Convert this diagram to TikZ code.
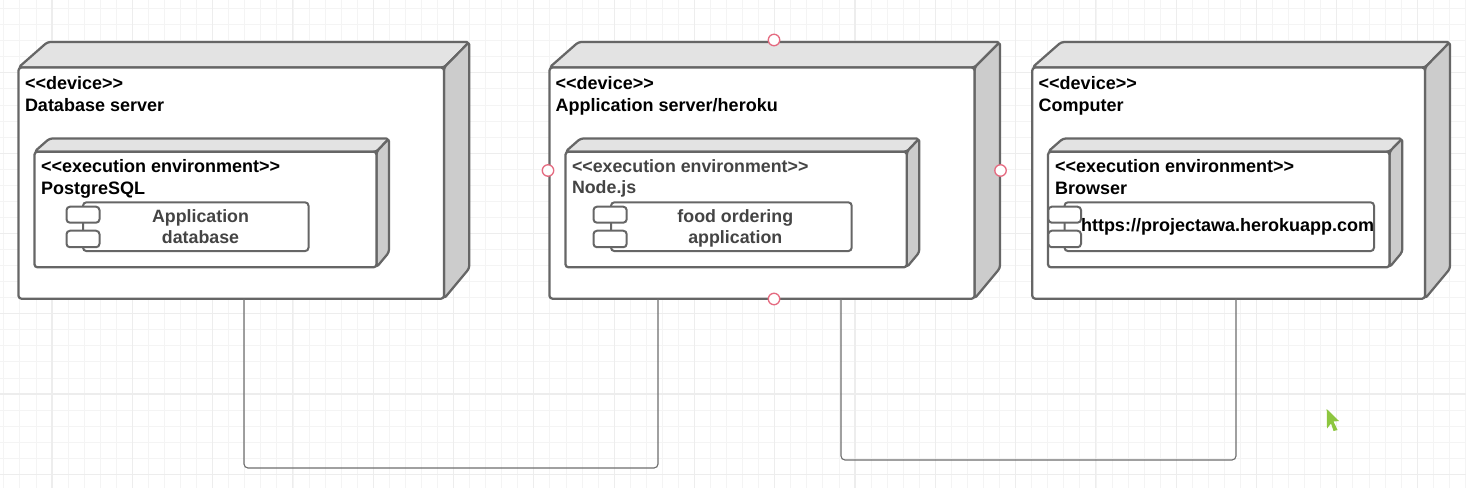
\documentclass[tikz,border=0pt]{standalone}
\usepackage{fontspec}
\newfontfamily\labfont{Liberation Sans}
\definecolor{edgec}{HTML}{666666}
\definecolor{topc}{HTML}{E3E3E3}
\definecolor{sidec}{HTML}{CCCCCC}
\definecolor{gridminor}{HTML}{F4F4F4}
\definecolor{gridmajor}{HTML}{EDEDED}
\definecolor{softtext}{HTML}{444444}
\definecolor{handlec}{HTML}{E56A80}
\definecolor{cursorc}{HTML}{8DC63F}
\definecolor{connc}{HTML}{6E6E6E}
\tikzset{
  shell/.style={draw=edgec,line width=1.7pt,rounded corners=2.2pt,line join=round},
  frontface/.style={shell,fill=white,inner sep=0pt,outer sep=0pt},
  compbody/.style={draw=edgec,line width=1.5pt,rounded corners=2.6pt,fill=white,inner sep=0pt,outer sep=0pt},
  label/.style={font=\labfont\fontsize{13.5pt}{15pt}\selectfont\bfseries,inner sep=0pt,outer sep=0pt,text=black},
  softlabel/.style={font=\labfont\fontsize{13.35pt}{15pt}\selectfont\bfseries,inner sep=0pt,outer sep=0pt,text=softtext},
  leftlabel/.style={anchor=base west},
  midlabel/.style={anchor=base},
  handle/.style={circle,draw=handlec,line width=1pt,fill=white,minimum size=8.6pt,inner sep=0pt},
  conn/.style={draw=connc,line width=0.85pt,rounded corners=3pt}
}
% name, x left, x front right, x back right, y back top, y front top, y bottom, left depth
\newcommand{\solidbox}[8]{%
  \draw[shell,fill=topc] (#2,#6) -- (#2+#8,#5) -- (#4,#5) -- (#3,#6) -- cycle;
  \draw[shell,fill=sidec] (#3,#6) -- (#4,#5) -- (#4,{#7-1.2*(#4-#3)}) -- (#3,#7) -- cycle;
  \node[frontface,minimum width={(#3-#2)*0.75pt},minimum height={(#7-#6)*0.75pt}] (#1) at ({(#2+#3)/2},{(#6+#7)/2}) {};
}
% name, x left, x right, small x left, small x right
\newcommand{\compbox}[5]{%
  \node[compbody,minimum width={(#3-#2)*0.75pt},minimum height={48.8*0.75pt}] (#1) at ({(#2+#3)/2},226.7) {};
  \node[compbody,minimum width={(#5-#4)*0.75pt},minimum height={16*0.75pt}] (#1a) at ({(#4+#5)/2},214.7) {};
  \node[compbody,minimum width={(#5-#4)*0.75pt},minimum height={16.5*0.75pt}] (#1b) at ({(#4+#5)/2},239) {};
}
\begin{document}
\begin{tikzpicture}[x=0.75pt,y=-0.75pt]
\useasboundingbox (0,0) rectangle (1466,488);
\fill[white] (0,0) rectangle (1466,488);
% grid
\foreach \k in {-3,...,88} {
  \pgfmathsetmacro{\gx}{52+16.06*\k}
  \draw[gridminor,line width=0.6pt] (\gx,0) -- (\gx,488);
}
\foreach \k in {-24,...,5} {
  \pgfmathsetmacro{\gy}{394+16.06*\k}
  \draw[gridminor,line width=0.6pt] (0,\gy) -- (1466,\gy);
}
\foreach \k in {0,...,17} {
  \pgfmathsetmacro{\gx}{52+80.3*\k}
  \draw[gridmajor,line width=0.8pt] (\gx,0) -- (\gx,488);
}
\foreach \k in {-4,...,1} {
  \pgfmathsetmacro{\gy}{394+80.3*\k}
  \draw[gridmajor,line width=0.8pt] (0,\gy) -- (1466,\gy);
}
% devices
\solidbox{dbdev}{18.5}{444}{469.3}{42}{67.5}{298.7}{29}
\solidbox{appdev}{549.5}{974.5}{1000}{42}{67.5}{298.7}{29}
\solidbox{pcdev}{1032.3}{1425}{1450}{42}{67.5}{298.7}{29}
% execution environments
\solidbox{dbenv}{34.5}{376.5}{389}{138.5}{151.7}{267.3}{15}
\solidbox{appenv}{565.5}{906.8}{919.3}{138.5}{151.7}{267.3}{15}
\solidbox{pcenv}{1048}{1389.5}{1402.3}{138.5}{151.7}{267.3}{15}
% components
\compbox{dbcomp}{83}{308.5}{66.5}{99.5}
\compbox{appcomp}{611}{851.7}{593.5}{626.7}
\compbox{pccomp}{1064.5}{1374}{1048.3}{1081}
% device text
\node[label,leftlabel] (t1) at (25,89.2) {<<device>>};
\node[label,leftlabel] (t2) at (25,111.2) {Database server};
\node[label,leftlabel] (t3) at (555.7,89.2) {<<device>>};
\node[label,leftlabel] (t4) at (555.7,111.2) {Application server/heroku};
\node[label,leftlabel] (t5) at (1038.7,89.2) {<<device>>};
\node[label,leftlabel] (t6) at (1038.7,111.2) {Computer};
% environment text
\node[label,leftlabel] (t7) at (41,172.2) {<<execution environment>>};
\node[label,leftlabel] (t8) at (41,194.5) {PostgreSQL};
\node[softlabel,leftlabel] (t9) at (572,172.2) {<<execution environment>>};
\node[softlabel,leftlabel] (t10) at (572,193.3) {Node.js};
\node[label,leftlabel] (t11) at (1055,172.2) {<<execution environment>>};
\node[label,leftlabel] (t12) at (1055,194.5) {Browser};
% component text
\node[softlabel,midlabel] (t13) at (200.5,222.3) {Application};
\node[softlabel,midlabel] (t14) at (200.5,243.3) {database};
\node[softlabel,midlabel] (t15) at (735.3,222.3) {food ordering};
\node[softlabel,midlabel] (t16) at (735.3,243.3) {application};
\node[label,leftlabel] (t17) at (1081,231.3) {https://projectawa.herokuapp.com};
% connectors
\coordinate (lane1) at (450,468);
\coordinate (lane2) at (1040,460);
\draw[conn] ([xshift=9.56pt]dbdev.south) |- (lane1) -| ([xshift=-78pt]appdev.south);
\draw[conn] ([xshift=59.25pt]appdev.south) |- (lane2) -| ([xshift=5.5pt]pcdev.south);
% selection handles
\node[handle] (h1) at (774,40) {};
\node[handle] (h2) at (548,170.5) {};
\node[handle] (h3) at (1000.5,170.5) {};
\node[handle] (h4) at (774,299) {};
% cursor
\fill[cursorc] (1326.7,409) -- (1339,421) -- (1333.5,421.5) -- (1337.5,430) -- (1333.5,431) -- (1331,423.5) -- (1327,428.5) -- cycle;
\end{tikzpicture}
\end{document}
